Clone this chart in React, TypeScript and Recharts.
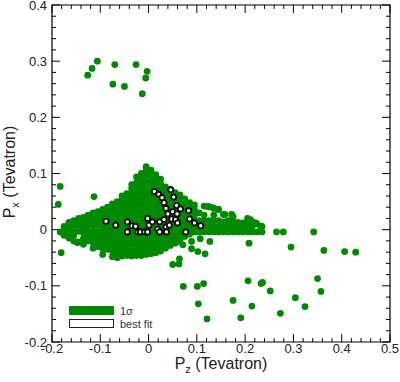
import React from 'react';
import { ScatterChart, Scatter, XAxis, YAxis, ReferenceLine, ReferenceArea, Legend } from 'recharts';

const FONT = '"Liberation Sans", Arial, Helvetica, sans-serif';
const GREEN = '#008a00';

const xTicks = [-0.2, -0.1, 0, 0.1, 0.2, 0.3, 0.4, 0.5];
const xTickLabels = ['-0.2', '-0.1', '0', '0.1', '0.2', '0.3', '0.4', '0.5'];
const yTicks = [-0.2, -0.1, 0, 0.1, 0.2, 0.3, 0.4];
const yTickLabels = ['-0.2', '-0.1', '0', '0.1', '0.2', '0.3', '0.4'];
const xMinorTicks = [-0.18, -0.16, -0.14, -0.12, -0.08, -0.06, -0.04, -0.02, 0.02, 0.04, 0.06, 0.08,
  0.12, 0.14, 0.16, 0.18, 0.22, 0.24, 0.26, 0.28, 0.32, 0.34, 0.36, 0.38, 0.42, 0.44, 0.46, 0.48];
const yMinorTicks = [-0.18, -0.16, -0.14, -0.12, -0.08, -0.06, -0.04, -0.02, 0.02, 0.04, 0.06, 0.08,
  0.12, 0.14, 0.16, 0.18, 0.22, 0.24, 0.26, 0.28, 0.32, 0.34, 0.36, 0.38];

const legendNames = ['1\u03c3', 'best fit'];

// dense 1 sigma region, read column by column: [Pz, list of Px]
const oneSigmaColumns: [number, number[]][] = [
  [-0.175, [-0.01, -0.003, 0.006]],
  [-0.165, [-0.015, -0.004, 0.005, 0.013]],
  [-0.155, [-0.02, -0.01, -0.003, 0.008, 0.016]],
  [-0.145, [-0.022, -0.003, 0.006, 0.015, 0.02]],
  [-0.135, [-0.026, -0.016, -0.006, 0.004, 0.013, 0.022]],
  [-0.125, [-0.02, -0.01, -0.003, 0.008, 0.017, 0.026]],
  [-0.115, [-0.033, -0.023, -0.013, -0.003, 0.006, 0.015, 0.025, 0.03]],
  [-0.105, [-0.03, -0.02, -0.01, -0.003, 0.008, 0.018, 0.028, 0.032]],
  [-0.095, [-0.044, -0.034, -0.024, -0.014, -0.004, 0.006, 0.016, 0.026, 0.036]],
  [-0.085, [-0.035, -0.025, -0.015, -0.005, 0.005, 0.015, 0.025, 0.034, 0.04]],
  [-0.075, [-0.048, -0.038, -0.028, -0.018, -0.008, 0.002, 0.012, 0.022, 0.032, 0.042, 0.046]],
  [-0.065, [-0.05, -0.04, -0.03, -0.02, -0.01, 0, 0.01, 0.02, 0.03, 0.04, 0.05]],
  [-0.055, [-0.047, -0.037, -0.027, -0.017, -0.007, 0.003, 0.013, 0.023, 0.033, 0.043, 0.053, 0.06]],
  [-0.045, [-0.046, -0.036, -0.026, -0.016, -0.006, 0.004, 0.014, 0.024, 0.034, 0.044, 0.054, 0.064]],
  [-0.035, [-0.047, -0.037, -0.027, -0.017, -0.007, 0.003, 0.013, 0.023, 0.033, 0.043, 0.053, 0.063, 0.073, 0.08]],
  [-0.025, [-0.046, -0.036, -0.026, -0.016, -0.006, 0.004, 0.014, 0.024, 0.034, 0.044, 0.054, 0.064, 0.074, 0.084, 0.094]],
  [-0.015, [-0.046, -0.036, -0.026, -0.016, -0.006, 0.004, 0.014, 0.024, 0.034, 0.044, 0.054, 0.064, 0.074, 0.084, 0.094, 0.1]],
  [-0.005, [-0.044, -0.034, -0.024, -0.014, -0.004, 0.006, 0.016, 0.026, 0.036, 0.046, 0.056, 0.066, 0.076, 0.086, 0.096, 0.106, 0.112]],
  [0.005, [-0.043, -0.033, -0.023, -0.013, -0.003, 0.007, 0.017, 0.027, 0.037, 0.047, 0.057, 0.067, 0.077, 0.087, 0.097, 0.106]],
  [0.015, [-0.041, -0.031, -0.021, -0.011, -0.001, 0.009, 0.019, 0.029, 0.039, 0.049, 0.059, 0.069, 0.079, 0.089, 0.098]],
  [0.025, [-0.038, -0.028, -0.018, -0.008, 0.002, 0.012, 0.022, 0.032, 0.042, 0.052, 0.062, 0.072, 0.082, 0.09]],
  [0.035, [-0.033, -0.023, -0.013, -0.003, 0.007, 0.017, 0.027, 0.037, 0.047, 0.057, 0.067, 0.076]],
  [0.045, [-0.028, -0.018, -0.008, 0.002, 0.012, 0.022, 0.032, 0.042, 0.052, 0.062, 0.072]],
  [0.055, [-0.024, -0.014, -0.004, 0.006, 0.016, 0.026, 0.036, 0.046, 0.056, 0.066]],
  [0.065, [-0.016, -0.006, 0.004, 0.014, 0.024, 0.034, 0.044, 0.054, 0.062]],
  [0.075, [-0.012, -0.003, 0.007, 0.017, 0.027, 0.037, 0.047, 0.055]],
  [0.085, [-0.008, -0.003, 0.007, 0.017, 0.027, 0.037, 0.048]],
  [0.095, [-0.004, 0.006, 0.016, 0.026, 0.036, 0.044]],
  [0.105, [-0.004, 0.006, 0.016, 0.03]],
  [0.115, [-0.004, 0.006, 0.016, 0.026, 0.042]],
  [0.125, [-0.004, 0.006, 0.016, 0.041]],
  [0.135, [-0.004, 0.006, 0.016, 0.026, 0.038]],
  [0.145, [-0.004, 0.006, 0.016, 0.036]],
  [0.155, [-0.004, 0.005, 0.014, 0.027]],
  [0.165, [-0.004, 0.006, 0.016]],
  [0.175, [-0.004, 0.006, 0.014, 0.023]],
  [0.185, [-0.004, 0.005, 0.013]],
  [0.195, [-0.004, 0.006, 0.012]],
  [0.205, [-0.004, 0.004, 0.012, 0.02]],
  [0.215, [-0.004, 0.006, 0.014]],
  [0.225, [-0.004, 0.01]],
  [0.235, [-0.004, 0.006]],
];

// isolated 1 sigma points
const oneSigmaScattered: [number, number][] = [
  [-0.126, 0.275], [-0.117, 0.287], [-0.106, 0.3], [-0.07, 0.294], [-0.074, 0.259],
  [-0.05, 0.255], [-0.026, 0.294], [-0.013, 0.242], [-0.006, 0.27], [-0.003, 0.282],
  [-0.183, 0.077], [-0.187, 0.045], [-0.183, -0.004], [-0.181, -0.041], [-0.113, 0.059],
  [-0.148, -0.023], [0.065, -0.021], [0.071, -0.027], [0.089, -0.021], [0.089, -0.034],
  [0.102, -0.039], [0.107, -0.016], [0.117, -0.043], [0.127, -0.021], [0.05, -0.062],
  [0.063, -0.061], [0.064, -0.052], [0.158, 0.027], [0.172, 0.027], [0.123, 0.041],
  [0.133, 0.039], [0.144, 0.036], [0.211, 0.018], [0.222, 0.012], [0.232, 0.006],
  [0.208, -0.024], [0.265, -0.004], [0.279, -0.004], [0.342, -0.004], [0.295, -0.031],
  [0.363, -0.037], [0.406, -0.039], [0.429, -0.04], [0.35, -0.087], [0.357, -0.11],
  [0.304, -0.121], [0.324, -0.137], [0.273, -0.149], [0.252, -0.109], [0.236, -0.094],
  [0.233, -0.096], [0.206, -0.091], [0.214, -0.136], [0.175, -0.126], [0.191, -0.157],
  [0.121, -0.159], [0.103, -0.132], [0.101, -0.101], [0.114, -0.096], [0.072, -0.101],
];

const bestFitPoints: [number, number][] = [
  [-0.088, 0.015], [-0.068, 0.008], [-0.044, 0.014], [-0.044, -0.004], [-0.034, 0.007],
  [-0.027, 0.006], [-0.022, -0.004], [-0.017, -0.004], [-0.008, -0.004], [-0.002, -0.004],
  [-0.002, 0.02], [0.001, 0.008], [0.008, 0.014], [0.012, 0.068], [0.021, 0.063],
  [0.028, 0.057], [0.032, 0.048], [0.036, 0.038], [0.04, 0.028], [0.023, 0.014],
  [0.019, 0.001], [0.023, -0.004], [0.032, 0.018], [0.036, 0.005], [0.037, -0.004],
  [0.043, 0.008], [0.046, 0.071], [0.052, 0.058], [0.058, 0.043], [0.05, 0.032],
  [0.059, 0.028], [0.066, 0.037], [0.048, 0.019], [0.056, 0.018], [0.06, 0.012],
  [0.077, -0.004], [0.083, 0.034], [0.085, 0.019], [0.095, 0.012], [0.108, 0.007],
];

const oneSigmaData = [
  ...oneSigmaColumns.flatMap(([x, ys]) => ys.map((y) => ({ x, y }))),
  ...oneSigmaScattered.map(([x, y]) => ({ x, y })),
];
const bestFitData = bestFitPoints.map(([x, y]) => ({ x, y }));

// tick lengths in data units (about 8px major, 4px minor)
const TICK_MAJOR_Y = 0.014;
const TICK_MINOR_Y = 0.007;
const TICK_MAJOR_X = 0.0165;
const TICK_MINOR_X = 0.0083;

const GreenDot = (p: any) => <circle cx={p.cx} cy={p.cy} r={3.4} fill={GREEN} />;
const FitDot = (p: any) => (
  <circle cx={p.cx} cy={p.cy} r={2.6} fill="#fff" stroke="#111" strokeWidth={1.9} />
);

const renderLegend = () => (
  <div style={{ fontFamily: FONT, fontSize: 11, color: '#333' }}>
    {legendNames.map((name, i) => (
      <div key={name} style={{ display: 'flex', alignItems: 'center', height: 13 }}>
        <div
          style={{
            width: 45,
            height: 9.5,
            boxSizing: 'border-box',
            background: i === 0 ? GREEN : '#fff',
            border: i === 0 ? 'none' : '1.5px solid #222',
            marginRight: 6,
          }}
        />
        <span>{name}</span>
      </div>
    ))}
  </div>
);

const xTickLine = (v: number, major: boolean) => {
  const len = major ? TICK_MAJOR_Y : TICK_MINOR_Y;
  return [
    <ReferenceLine key={`b${v}`} ifOverflow="visible" segment={[{ x: v, y: -0.2 }, { x: v, y: -0.2 + len }]} stroke="#000" strokeWidth={1} />,
    <ReferenceLine key={`t${v}`} ifOverflow="visible" segment={[{ x: v, y: 0.4 }, { x: v, y: 0.4 - len }]} stroke="#000" strokeWidth={1} />,
  ];
};
const yTickLine = (v: number, major: boolean) => {
  const len = major ? TICK_MAJOR_X : TICK_MINOR_X;
  return [
    <ReferenceLine key={`l${v}`} ifOverflow="visible" segment={[{ x: -0.2, y: v }, { x: -0.2 + len, y: v }]} stroke="#000" strokeWidth={1} />,
    <ReferenceLine key={`r${v}`} ifOverflow="visible" segment={[{ x: 0.5, y: v }, { x: 0.5 - len, y: v }]} stroke="#000" strokeWidth={1} />,
  ];
};

export default function App() {
  return (
    <div style={{ position: 'absolute', left: 0, top: 0, width: 400, height: 382, background: '#fff' }}>
      <ScatterChart width={400} height={382} margin={{ top: 5, right: 10, bottom: 0, left: 0 }}>
        <XAxis
          type="number"
          dataKey="x"
          domain={[-0.2, 0.5]}
          ticks={xTicks}
          interval={0}
          allowDataOverflow
          tickFormatter={(v: number) => xTickLabels[xTicks.indexOf(v)]}
          tickLine={false}
          axisLine={false}
          tickSize={0}
          tickMargin={2}
          height={40}
          tick={{ fill: '#222', fontSize: 13, fontFamily: FONT }}
          label={{
            content: (props: any) => {
              const vb = props.viewBox;
              return (
                <text x={vb.x + vb.width / 2} y={369} textAnchor="middle" fontFamily={FONT} fontSize={16} fill="#222">
                  P<tspan dy={4} fontSize={11}>z</tspan>
                  <tspan dy={-4}> (Tevatron)</tspan>
                </text>
              );
            },
          }}
        />
        <YAxis
          type="number"
          dataKey="y"
          domain={[-0.2, 0.4]}
          ticks={yTicks}
          interval={0}
          allowDataOverflow
          tickFormatter={(v: number) => yTickLabels[yTicks.indexOf(v)]}
          tickLine={false}
          axisLine={false}
          tickSize={0}
          tickMargin={5}
          width={52}
          tick={{ fill: '#222', fontSize: 13, fontFamily: FONT }}
          label={{
            content: () => (
              <text x={15} y={172} transform="rotate(-90, 15, 172)" textAnchor="middle" fontFamily={FONT} fontSize={16} fill="#222">
                P<tspan dy={4} fontSize={11}>x</tspan>
                <tspan dy={-4}> (Tevatron)</tspan>
              </text>
            ),
          }}
        />
        <ReferenceArea x1={-0.2} x2={0.5} y1={-0.2} y2={0.4} ifOverflow="visible" fill="none" fillOpacity={0} stroke="#000" strokeWidth={1.2} />
        {xTicks.flatMap((v) => xTickLine(v, true))}
        {xMinorTicks.flatMap((v) => xTickLine(v, false))}
        {yTicks.flatMap((v) => yTickLine(v, true))}
        {yMinorTicks.flatMap((v) => yTickLine(v, false))}
        <Scatter name={legendNames[0]} data={oneSigmaData} shape={GreenDot} isAnimationActive={false} />
        <Scatter name={legendNames[1]} data={bestFitData} shape={FitDot} isAnimationActive={false} />
        <Legend
          layout="vertical"
          align="center"
          verticalAlign="middle"
          content={renderLegend}
          wrapperStyle={{ position: 'absolute', left: 69, top: 304, width: 120 }}
        />
      </ScatterChart>
    </div>
  );
}
